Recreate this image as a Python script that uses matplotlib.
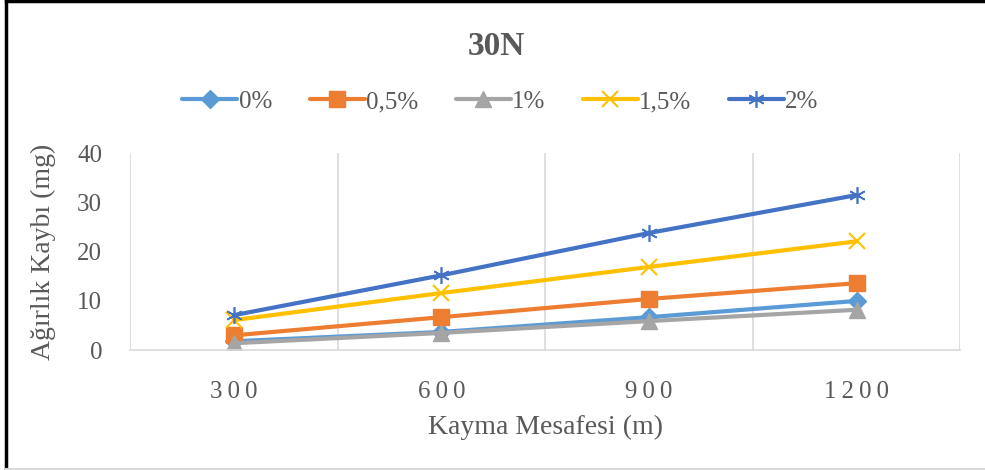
import matplotlib
matplotlib.use('Agg')
import matplotlib.pyplot as plt
from matplotlib.lines import Line2D

distances = ['300', '600', '900', '1200']
labels = ['0%', '0,5%', '1%', '1,5%', '2%']
loss_0 = [1.8, 3.7, 6.7, 10.0]
loss_05 = [3.0, 6.7, 10.4, 13.6]
loss_1 = [1.4, 3.5, 5.9, 8.2]
loss_15 = [6.1, 11.6, 16.9, 22.1]
loss_2 = [7.1, 15.2, 23.8, 31.5]

colors = ['#5B9BD5', '#ED7D31', '#A5A5A5', '#FFC000', '#4472C4']
markers = ['D', 's', '^', 'x', (6, 2, 0)]
msizes = [9, 11, 11, 11, 12]
mews = [1, 1, 1, 1.5, 1.2]

plt.rcParams['font.family'] = ['Liberation Serif', 'DejaVu Serif']
grey = '#595959'

fig = plt.figure(figsize=(9.85, 4.70), dpi=100)
ax = fig.add_axes([0.132, 0.255, 0.843, 0.419])

x = range(len(distances))
for y, lab, c, m, ms, mw in zip([loss_0, loss_05, loss_1, loss_15, loss_2],
                                labels, colors, markers, msizes, mews):
    ax.plot(x, y, color=c, lw=3, marker=m, ms=ms, mew=mw,
            mec=c, mfc=c, label=lab, solid_capstyle='round')

ax.set_xlim(-0.5, 3.5)
ax.set_ylim(0, 40)
ax.set_yticks([0, 10, 20, 30, 40])
ax.set_xticks(list(x))
# letter-spaced category labels, as in the original
ax.set_xticklabels(['\u2009'.join(d) for d in distances])
for xg in [-0.5, 0.5, 1.5, 2.5, 3.5]:
    ax.axvline(xg, color='#D9D9D9', lw=1.2, zorder=0)
for s in ['top', 'right', 'left']:
    ax.spines[s].set_visible(False)
ax.spines['bottom'].set_color('#D9D9D9')
ax.spines['bottom'].set_linewidth(1.2)
ax.tick_params(length=0, colors=grey, labelsize=18)
ax.tick_params(axis='x', pad=22)
ax.tick_params(axis='y', pad=20)

ax.set_xlabel('Kayma Mesafesi (m)', fontsize=20, color=grey, labelpad=9)
ax.set_ylabel('Ağırlık Kaybı (mg)', fontsize=20, color=grey, labelpad=15)
fig.text(0.504, 0.902, '30N', ha='center', va='center', fontsize=24,
         fontweight='bold', color=grey)

leg = fig.legend(loc='center', bbox_to_anchor=(0.508, 0.783), ncol=5,
                 frameon=False, fontsize=18, handlelength=2.2,
                 columnspacing=1.5, handletextpad=0.05)
for t in leg.get_texts():
    t.set_color(grey)

# outer frame
fig.add_artist(Line2D([0.006, 0.006], [0.0, 0.997], color='black', lw=2.5))
fig.add_artist(Line2D([0.006, 1.0], [0.997, 0.997], color='black', lw=2.5))
fig.add_artist(Line2D([0.006, 1.0], [0.002, 0.002], color='#D9D9D9', lw=1.5))

fig.savefig('out.png', dpi=100)
